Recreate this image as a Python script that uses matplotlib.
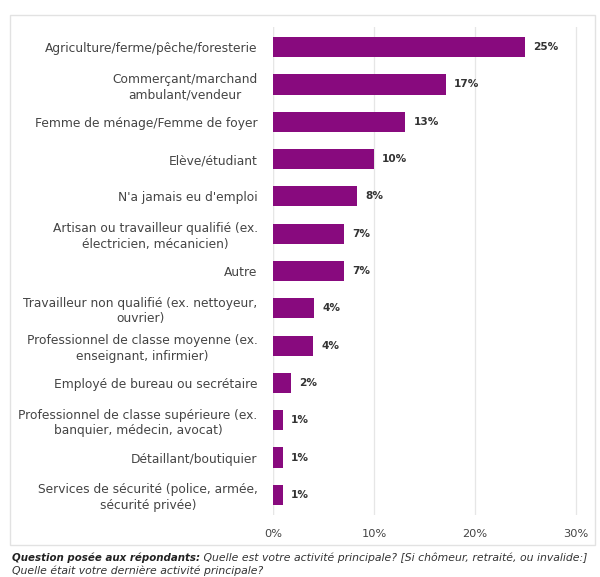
import matplotlib
matplotlib.use("Agg")
import matplotlib.pyplot as plt
from matplotlib.patches import Rectangle

categories = [
    "Agriculture/ferme/pêche/foresterie",
    "Commerçant/marchand\nambulant/vendeur",
    "Femme de ménage/Femme de foyer",
    "Elève/étudiant",
    "N'a jamais eu d'emploi",
    "Artisan ou travailleur qualifié (ex.\nélectricien, mécanicien)",
    "Autre",
    "Travailleur non qualifié (ex. nettoyeur,\nouvrier)",
    "Professionnel de classe moyenne (ex.\nenseignant, infirmier)",
    "Employé de bureau ou secrétaire",
    "Professionnel de classe supérieure (ex.\nbanquier, médecin, avocat)",
    "Détaillant/boutiquier",
    "Services de sécurité (police, armée,\nsécurité privée)",
]
values = [25.0, 17.1, 13.1, 10.0, 8.3, 7.0, 7.0, 4.1, 4.0, 1.8, 1.0, 1.0, 1.0]
value_labels = ["25%", "17%", "13%", "10%", "8%", "7%", "7%", "4%", "4%", "2%", "1%", "1%", "1%"]
xticks = [0, 10, 20, 30]
xtick_labels = ["0%", "10%", "20%", "30%"]

W, H = 600, 577
fig = plt.figure(figsize=(W / 100, H / 100), dpi=100)
plt.rcParams['font.family'] = ['DejaVu Sans']

# light border box
fig.patches.append(Rectangle((10 / W, 1 - 545 / H), 585 / W, 530 / H,
                             transform=fig.transFigure, fill=False,
                             edgecolor="#e2e2e2", linewidth=1.0))

left, right, top, bottom = 273, 585, 27, 515
ax = fig.add_axes([left / W, 1 - bottom / H, (right - left) / W, (bottom - top) / H])

purple = "#880a7e"
ypos = list(range(len(categories)))
ax.barh(ypos, values, height=0.54, color=purple, zorder=3)
for y, v, lab in zip(ypos, values, value_labels):
    ax.text(v + 0.8, y, lab, va="center", ha="left", fontsize=7.6,
            fontweight="semibold", color="#333333")

ax.set_ylim(len(categories) - 0.46, -0.54)
ax.set_xlim(0, 30.9)
ax.set_yticks(ypos)
ax.set_yticklabels(categories, fontsize=8.8, color="#444444",
                   multialignment="center", linespacing=1.25)
ax.set_xticks(xticks)
ax.set_xticklabels(xtick_labels, fontsize=8.2, color="#444444")
ax.tick_params(axis="both", length=0)
ax.tick_params(axis="y", pad=11)
ax.tick_params(axis="x", pad=10)
for s in ax.spines.values():
    s.set_visible(False)
ax.grid(axis="x", color="#e6e6e6", linewidth=0.9, zorder=0)
ax.axvline(0, color="#e6e6e6", linewidth=0.9, zorder=1)

t1 = fig.text(12 / W, 1 - 561 / H, "Question posée aux répondants:", fontsize=7.4,
              fontweight="bold", fontstyle="italic", color="#222222", va="baseline")
ax.annotate(" Quelle est votre activité principale? [Si chômeur, retraité, ou invalide:]",
            xy=(1, 0), xycoords=t1, va="bottom", ha="left", fontsize=7.8,
            fontstyle="italic", color="#333333", annotation_clip=False)
fig.text(12 / W, 1 - 573.5 / H, "Quelle était votre dernière activité principale?", fontsize=7.8,
         fontstyle="italic", color="#333333", va="baseline")

fig.savefig("out.png", dpi=100, facecolor="white")
